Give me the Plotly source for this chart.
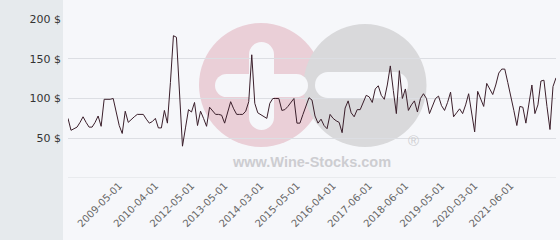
import plotly.graph_objects as go

# ---- data ----
prices = [
    75, 60, 62, 64, 70, 77, 70, 64, 64, 70,
    78, 65, 99, 99, 99, 100, 83, 66, 56, 84,
    70, 74, 77, 80, 80, 80, 74, 69, 71, 75,
    63, 63, 85, 69, 120, 179, 177, 105, 40, 63,
    86, 83, 95, 66, 84, 75, 65, 89, 85, 80,
    80, 79, 69, 82, 96, 87, 80, 80, 80, 84,
    96, 155, 94, 82, 80, 78, 75, 94, 100, 100,
    100, 85, 86, 90, 95, 100, 69, 69, 80, 92,
    101, 98, 78, 69, 74, 66, 62, 80, 75, 72,
    70, 57, 88, 97, 82, 77, 86, 86, 95, 104,
    102, 95, 112, 116, 104, 99, 117, 141, 110, 81,
    135, 100, 112, 85, 92, 97, 83, 100, 106, 100,
    81, 91, 100, 103, 91, 85, 95, 108, 77, 82,
    87, 81, 92, 106, 82, 58, 109, 100, 90, 119,
    112, 105, 117, 132, 137, 137, 120, 104, 85, 66,
    90, 89, 69, 93, 117, 81, 92, 122, 123, 90,
    61, 115, 126,
]
tick_labels = [
    "2009-05-01", "2010-04-01", "2012-05-01", "2013-05-01", "2014-03-01",
    "2015-05-01", "2016-04-01", "2017-06-01", "2018-06-01", "2019-05-01",
    "2020-03-01", "2021-06-01",
]
# observation index carrying each date label
tick_obs = [17, 29, 41, 52, 64, 76, 88, 100, 112, 124, 135, 147]
y_ticks = [0, 50, 100, 150, 200]
y_tick_text = ["", "50 $", "100 $", "150 $", "200 $"]

# ---- geometry ----
W, H = 560, 240
ML, MR, MT, MB = 68, 4, 19, 62
PW = W - ML - MR
PH = H - MT - MB
BG = "#f6f7fa"
GRID = "#dcdee3"

x_idx = list(range(len(prices)))

fig = go.Figure()
fig.add_trace(go.Scatter(
    x=x_idx, y=prices, mode="lines",
    line=dict(color="#3b1f2b", width=1),
    hoverinfo="skip", showlegend=False,
))

shapes = []
# left grey panel
shapes.append(dict(type="rect", xref="paper", yref="paper",
                   x0=-ML / PW, x1=-5 / PW, y0=-2, y1=2,
                   fillcolor="#e6eaed", line=dict(width=0), layer="below"))


def px_shape(kind, x0, y0, x1, y1, color):
    # page-pixel box -> pixel offsets from plot bottom-left corner
    return dict(type=kind, xref="paper", yref="paper",
                xsizemode="pixel", ysizemode="pixel", xanchor=0, yanchor=0,
                x0=x0 - ML, x1=x1 - ML, y0=(H - MB) - y1, y1=(H - MB) - y0,
                fillcolor=color, line=dict(width=0), layer="below")


def circle(cx, cy, r, color):
    return px_shape("circle", cx - r, cy - r, cx + r, cy + r, color)


def pill_h(x0, x1, y0, y1, color):
    r = (y1 - y0) / 2
    cy = (y0 + y1) / 2
    return [px_shape("rect", x0 + r, y0, x1 - r, y1, color),
            circle(x0 + r, cy, r, color), circle(x1 - r, cy, r, color)]


def pill_v(x0, x1, y0, y1, color):
    r = (x1 - x0) / 2
    cx = (x0 + x1) / 2
    return [px_shape("rect", x0, y0 + r, x1, y1 - r, color),
            circle(cx, y0 + r, r, color), circle(cx, y1 - r, r, color)]


# watermark logo
shapes.append(circle(261, 85, 62, "#eacfd7"))
shapes.append(circle(365, 85.5, 61.5, "#d9d9db"))
shapes += pill_v(249, 274, 42, 130, BG)
shapes += pill_h(215, 308, 74, 97, BG)
shapes += pill_h(315, 408, 72, 98, BG)
# baseline grid line at 0 (Plotly drops the grid line on the range edge)
shapes.append(dict(type="line", xref="paper", yref="y", x0=0, x1=1, y0=0, y1=0,
                   line=dict(color=GRID, width=1), layer="below"))

annotations = [
    dict(text="<b>www.Wine-Stocks.com</b>", xref="paper", yref="paper",
         x=(311 - ML) / PW, y=((H - MB) - 162) / PH, xanchor="center", yanchor="middle",
         showarrow=False, font=dict(family="Liberation Sans", size=14.5, color="#cdcdd1")),
    dict(text="®", xref="paper", yref="paper",
         x=(413 - ML) / PW, y=((H - MB) - 140) / PH, xanchor="center", yanchor="middle",
         showarrow=False, font=dict(family="Liberation Sans", size=15, color="#cfcfd2")),
]

fig.update_layout(
    width=W, height=H,
    margin=dict(l=ML, r=MR, t=MT, b=MB, pad=0),
    paper_bgcolor=BG, plot_bgcolor="rgba(0,0,0,0)",
    shapes=shapes, annotations=annotations,
    showlegend=False,
    xaxis=dict(range=[0, len(prices) - 1], tickmode="array", tickvals=tick_obs,
               ticktext=tick_labels, tickangle=-45, showgrid=False, zeroline=False,
               showline=False, ticks="", fixedrange=True, ticklabelstandoff=-1,
               tickfont=dict(family="DejaVu Sans", size=10, color="#666666")),
    yaxis=dict(range=[0, 200], tickmode="array", tickvals=y_ticks, ticktext=y_tick_text,
               showgrid=True, gridcolor=GRID, gridwidth=1, zeroline=False,
               showline=False, ticks="", fixedrange=True, ticklabelstandoff=6,
               tickfont=dict(family="DejaVu Sans", size=11, color="#333333")),
)

fig.write_html("out.html", config={"displayModeBar": False})
